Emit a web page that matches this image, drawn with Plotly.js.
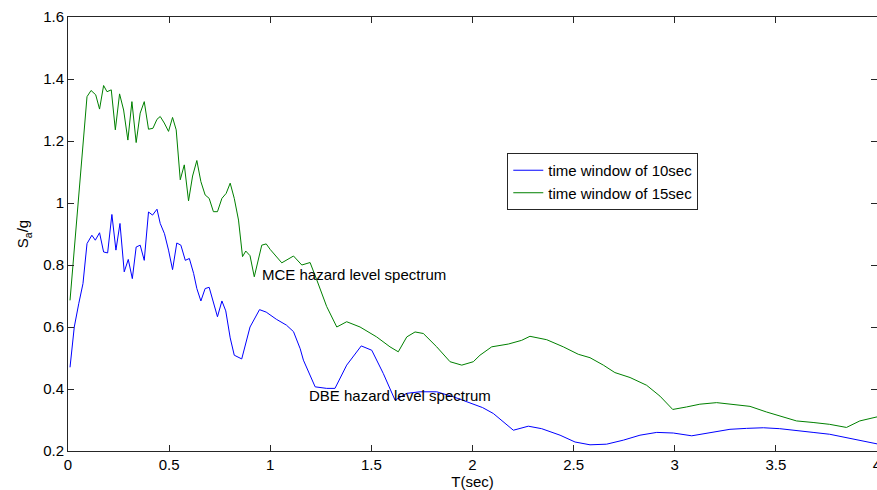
<!DOCTYPE html>
<html>
<head>
<meta charset="utf-8">
<script src="https://cdn.plot.ly/plotly-3.0.1.min.js"></script>
<style>html,body{margin:0;padding:0;background:#fff;}#chart{width:877px;height:490px;}</style>
</head>
<body>
<div id="chart"></div>
<script>
// Period T (sec) and Sa/g for the 10 s time window (DBE level, blue)
const T_10SEC = [
  0.01, 0.031, 0.053, 0.074, 0.094, 0.118, 0.135, 0.156, 0.176, 0.196,
  0.217, 0.237, 0.257, 0.278, 0.298, 0.318, 0.337, 0.357, 0.377, 0.398,
  0.418, 0.44, 0.456, 0.477, 0.497, 0.517, 0.538, 0.558, 0.58, 0.6,
  0.621, 0.637, 0.657, 0.678, 0.698, 0.719, 0.739, 0.761, 0.78, 0.802,
  0.822, 0.859, 0.9, 0.947, 0.98, 1.03, 1.08, 1.115, 1.148, 1.164,
  1.222, 1.279, 1.32, 1.378, 1.45, 1.502, 1.559, 1.617, 1.675, 1.741,
  1.823, 1.905, 1.988, 2.05, 2.103, 2.202, 2.276, 2.342, 2.433, 2.507,
  2.581, 2.663, 2.746, 2.828, 2.911, 2.993, 3.084, 3.174, 3.273, 3.355,
  3.438, 3.519, 3.602, 3.684, 3.766, 3.849, 3.931, 4.0
];
const SA_10SEC = [
  0.47, 0.6, 0.675, 0.74, 0.869, 0.896, 0.88, 0.904, 0.842, 0.839,
  0.963, 0.848, 0.934, 0.778, 0.818, 0.756, 0.858, 0.864, 0.815, 0.971,
  0.961, 0.98, 0.934, 0.901, 0.848, 0.785, 0.871, 0.864, 0.815, 0.821,
  0.773, 0.724, 0.684, 0.724, 0.728, 0.676, 0.633, 0.684, 0.652, 0.565,
  0.509, 0.497, 0.6, 0.656, 0.648, 0.625, 0.606, 0.585, 0.53, 0.493,
  0.407, 0.402, 0.402, 0.477, 0.539, 0.525, 0.45, 0.364, 0.386, 0.391,
  0.391, 0.375, 0.354, 0.34, 0.321, 0.267, 0.28, 0.272, 0.251, 0.229,
  0.22, 0.222, 0.235, 0.251, 0.26, 0.258, 0.249, 0.26, 0.27, 0.273,
  0.275, 0.272, 0.267, 0.26, 0.254, 0.243, 0.232, 0.223
];

// Period T (sec) and Sa/g for the 15 s time window (MCE level, green)
const T_15SEC = [
  0.01, 0.094, 0.114, 0.137, 0.156, 0.176, 0.193, 0.214, 0.234, 0.255,
  0.275, 0.296, 0.316, 0.337, 0.357, 0.377, 0.398, 0.42, 0.44, 0.456,
  0.476, 0.497, 0.517, 0.535, 0.555, 0.575, 0.596, 0.616, 0.637, 0.657,
  0.678, 0.698, 0.719, 0.739, 0.761, 0.782, 0.802, 0.822, 0.843, 0.863,
  0.879, 0.9, 0.921, 0.958, 0.98, 1.0, 1.057, 1.115, 1.156, 1.197,
  1.23, 1.279, 1.329, 1.378, 1.444, 1.526, 1.592, 1.633, 1.675, 1.716,
  1.757, 1.823, 1.889, 1.947, 2.004, 2.037, 2.095, 2.177, 2.243, 2.284,
  2.367, 2.449, 2.523, 2.581, 2.647, 2.704, 2.779, 2.861, 2.927, 2.99,
  3.058, 3.124, 3.207, 3.289, 3.372, 3.453, 3.519, 3.602, 3.684, 3.766,
  3.849, 3.915, 4.0
];
const SA_15SEC = [
  0.686, 1.343, 1.363, 1.349, 1.303, 1.379, 1.359, 1.365, 1.236, 1.352,
  1.3, 1.203, 1.327, 1.195, 1.29, 1.327, 1.238, 1.241, 1.27, 1.279,
  1.258, 1.231, 1.276, 1.236, 1.075, 1.123, 1.007, 1.087, 1.137, 1.069,
  1.026, 1.015, 0.972, 0.972, 1.015, 1.031, 1.064, 1.015, 0.945, 0.827,
  0.845, 0.83, 0.762, 0.864, 0.868, 0.85, 0.807, 0.829, 0.8, 0.808,
  0.752, 0.666, 0.6, 0.617, 0.6, 0.568, 0.536, 0.52, 0.568, 0.584,
  0.579, 0.536, 0.488, 0.477, 0.488, 0.509, 0.536, 0.545, 0.557, 0.57,
  0.559, 0.536, 0.512, 0.501, 0.477, 0.453, 0.437, 0.412, 0.377, 0.334,
  0.342, 0.351, 0.356, 0.351, 0.344, 0.326, 0.313, 0.297, 0.292, 0.286,
  0.276, 0.297, 0.31
];

const SERIES_NAMES = ['time window of 10sec', 'time window of 15sec'];
const X_TICKS = [0, 0.5, 1, 1.5, 2, 2.5, 3, 3.5, 4];
const X_TICK_TEXT = ['0', '0.5', '1', '1.5', '2', '2.5', '3', '3.5', '4'];
const Y_TICKS = [0.2, 0.4, 0.6, 0.8, 1, 1.2, 1.4, 1.6];
const Y_TICK_TEXT = ['0.2', '0.4', '0.6', '0.8', '1', '1.2', '1.4', '1.6'];
const LABELS = ['MCE hazard level spectrum', 'DBE hazard level spectrum'];
const LABEL_T = [0.95, 1.184];
const LABEL_SA = [0.77, 0.38];

const FONT = 'Liberation Sans, Arial, Helvetica, sans-serif';
const AX = '#262626';

const traces = [
  {x: T_10SEC, y: SA_10SEC, name: SERIES_NAMES[0], type: 'scatter', mode: 'lines',
   line: {color: '#0000ff', width: 1}},
  {x: T_15SEC, y: SA_15SEC, name: SERIES_NAMES[1], type: 'scatter', mode: 'lines',
   line: {color: '#008000', width: 1}}
];

const layout = {
  width: 877, height: 490,
  margin: {l: 68, r: 0, t: 17, b: 39, pad: 0},
  paper_bgcolor: '#ffffff', plot_bgcolor: '#ffffff',
  font: {family: FONT, size: 15, color: '#000'},
  showlegend: true,
  legend: {x: 0.543, xanchor: 'left', y: 0.621, yanchor: 'middle',
           bgcolor: '#ffffff', bordercolor: AX, borderwidth: 1,
           font: {family: FONT, size: 15, color: '#000'}, tracegroupgap: 0},
  xaxis: {range: [0, 4], tickvals: X_TICKS, ticktext: X_TICK_TEXT,
          ticks: 'inside', ticklen: 6, tickcolor: AX, tickwidth: 1,
          showline: true, linecolor: AX, linewidth: 1, mirror: 'ticks',
          showgrid: false, zeroline: false, automargin: false,
          ticklabeloverflow: 'allow',
          tickfont: {family: FONT, size: 15},
          title: {text: 'T(sec)', font: {family: FONT, size: 15}, standoff: 4}},
  yaxis: {range: [0.2, 1.6], tickvals: Y_TICKS, ticktext: Y_TICK_TEXT,
          ticks: 'inside', ticklen: 6, tickcolor: AX, tickwidth: 1,
          showline: true, linecolor: AX, linewidth: 1, mirror: 'ticks',
          showgrid: false, zeroline: false, automargin: false,
          ticklabeloverflow: 'allow',
          tickfont: {family: FONT, size: 15},
          title: {text: 'S<sub>a</sub>/g', font: {family: FONT, size: 15}, standoff: 10}},
  annotations: LABELS.map((t, i) => ({
    x: LABEL_T[i], y: LABEL_SA[i], xref: 'x', yref: 'y', text: t,
    showarrow: false, xanchor: 'left', yanchor: 'middle',
    font: {family: FONT, size: 15, color: '#000'}
  }))
};

Plotly.newPlot('chart', traces, layout, {displayModeBar: false, staticPlot: true});
</script>
</body>
</html>
